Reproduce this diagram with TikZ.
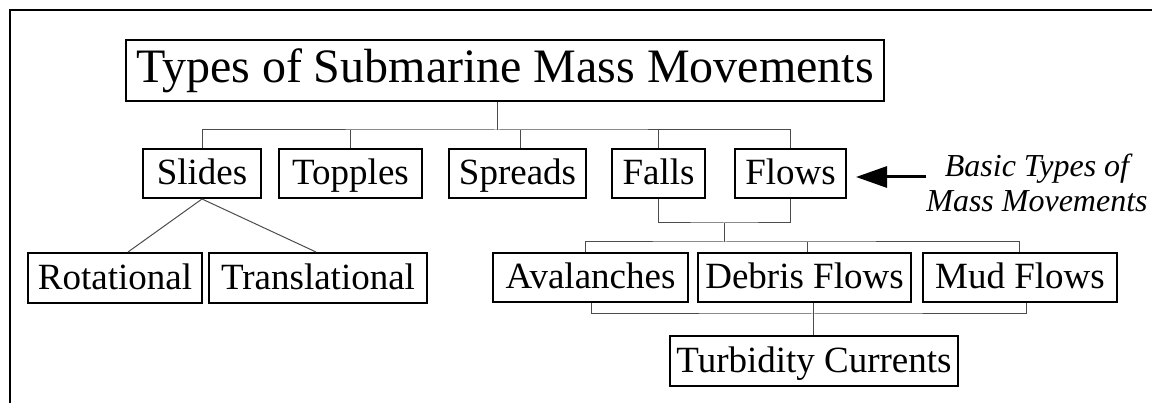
\documentclass[tikz,border=0pt]{standalone}
\usepackage{fontspec}
\setmainfont{Liberation Serif}
\usetikzlibrary{arrows.meta,calc}
\begin{document}
\begin{tikzpicture}[x=1pt,y=-1pt,
  box/.style={draw, line width=2pt, inner sep=0pt,
    font=\fontsize{37}{40}\selectfont, text height=28pt, text depth=5pt,
    minimum height=49pt},
  link/.style={line width=1pt, draw=black!70},
  pointer/.style={line width=3pt, -{Triangle[length=31pt, width=21pt]}},
]
\useasboundingbox (0,0) rectangle (1152,403);

% outer frame
\draw[line width=2.5pt] (10,403) -- (10,10) -- (1152,10);

% title
\node[box, line width=2.5pt, font=\fontsize{48}{52}\selectfont,
      text height=35pt, text depth=10pt,
      minimum width=758pt, minimum height=61pt] (title) at (505,70.5)
      {Types of Submarine Mass Movements};

% basic types
\node[box, minimum width=118pt] (slides)  at (202,173.5)   {Slides};
\node[box, minimum width=143pt] (topples) at (350.5,173.5) {Topples};
\node[box, minimum width=137pt] (spreads) at (517.5,173.5) {Spreads};
\node[box, minimum width=93pt]  (falls)   at (658.5,173.5) {Falls};
\node[box, minimum width=111pt] (flows)   at (790.5,173.5) {Flows};

% sub-types of slides
\node[box, minimum width=174pt, minimum height=50pt] (rot)   at (115,278) {Rotational};
\node[box, minimum width=218pt, minimum height=50pt] (trans) at (318,278) {Translational};

% sub-types of flows
\node[box, minimum width=195pt] (ava)    at (590.5,277.5) {Avalanches};
\node[box, minimum width=213pt] (debris) at (804.5,277.5) {Debris Flows};
\node[box, minimum width=194pt] (mud)    at (1020,277.5)  {Mud Flows};
\node[box, minimum width=288pt, minimum height=50pt] (turb) at (814,361) {Turbidity Currents};

% side note
\node[align=center, inner sep=0pt, font=\fontsize{32}{35}\selectfont\itshape]
  (note) at (1037,183) {Basic Types of\\Mass Movements};

% tree from the title to the basic types
\coordinate (hub) at (497,130);
\draw[link] (title.south -| hub) -- (hub);
\draw[link] (slides.north) |- (hub) -| (flows.north);
\draw[link] (topples.north) -- (topples.north |- hub);
\draw[link] ($(spreads.north)+(3,0)$) -- ($(spreads.north |- hub)+(3,0)$);
\draw[link] (falls.north) -- (falls.north |- hub);

% slides split
\draw[link] ($(rot.north)+(13,0)$) -- (slides.south) -- ($(trans.north)+(-2,0)$);

% falls and flows join
\coordinate (ff) at (724,223);
\coordinate (fb) at (724,242);
\draw[link] (falls.south) |- (ff) -| (flows.south);
\draw[link] (ff) -- (fb);
\draw[link] ($(ava.north)+(-5.5,0)$) |- (fb) -| ($(mud.north)+(-1,0)$);
\draw[link] ($(debris.north)+(2.5,0)$) -- ($(debris.north |- fb)+(2.5,0)$);

% flows merge into turbidity currents
\coordinate (lb) at (813,314);
\draw[link] ($(ava.south)+(0.5,0)$) |- (lb) -| ($(mud.south)+(6,0)$);
\draw[link] ($(debris.south)+(8.5,0)$) -- ($(turb.north)+(-1,0)$);

% arrow from the note
\coordinate (tip) at (856,177);
\draw[pointer] (note.west |- tip) -- (tip);
\end{tikzpicture}
\end{document}
